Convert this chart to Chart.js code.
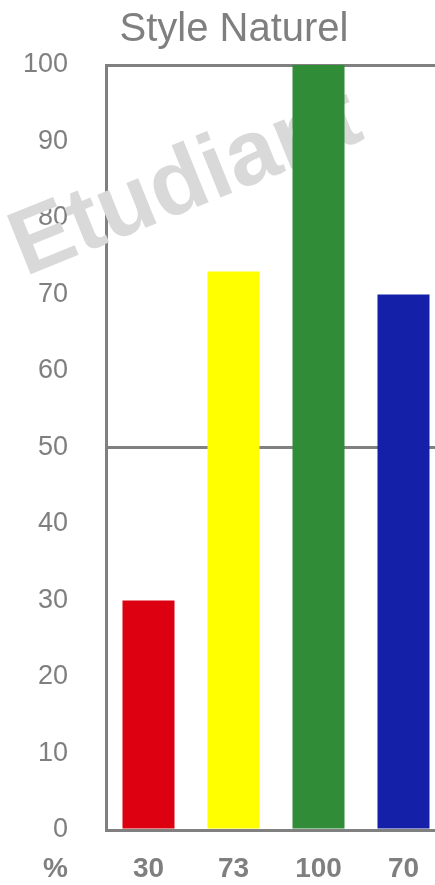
<!DOCTYPE html>
<html>
<head>
<meta charset="utf-8">
<script src="https://cdn.jsdelivr.net/npm/chart.js@4/dist/chart.umd.min.js"></script>
<style>
  html, body { margin: 0; padding: 0; background: #fff; overflow: hidden; }
  #boite { position: relative; width: 552px; height: 885px; }
</style>
</head>
<body>
<div id="boite"><canvas id="graphique"></canvas></div>
<script>
const categories = ["30", "73", "100", "70"];
const valeurs = [30, 73, 100, 70];
const couleurs = ["#dc0011", "#ffff00", "#308c37", "#1520a8"];
const yMin = 0;
const yMax = 100;
const yPas = 10;
const lignesMarquees = [50, 100];

const titre = "Style Naturel";
const filigrane = "Etudiant";
const uniteX = "%";

const gris = "#808080";
const texteGris = "#7f7f7f";
const police = "Arial, 'Liberation Sans', sans-serif";

const pluginFiligrane = {
  id: "filigrane",
  beforeDatasetsDraw(chart) {
    const ctx = chart.ctx;
    ctx.save();
    ctx.translate(186, 184);
    ctx.rotate(-22 * Math.PI / 180);
    ctx.font = "bold 92px " + police;
    ctx.fillStyle = "#d9d9d9";
    ctx.textAlign = "center";
    ctx.textBaseline = "middle";
    ctx.fillText(filigrane, 0, 0);
    ctx.restore();
  }
};

const pluginUnite = {
  id: "unite",
  afterDraw(chart) {
    const ctx = chart.ctx;
    const zone = chart.chartArea;
    ctx.save();
    ctx.font = "bold 28px " + police;
    ctx.fillStyle = texteGris;
    ctx.textAlign = "right";
    ctx.textBaseline = "middle";
    ctx.fillText(uniteX, zone.left - 38, zone.bottom + 39);
    ctx.restore();
  }
};

new Chart(document.getElementById("graphique"), {
  type: "bar",
  data: {
    labels: categories,
    datasets: [
      {
        data: valeurs,
        backgroundColor: couleurs,
        borderWidth: 0,
        barPercentage: 0.612,
        categoryPercentage: 1
      }
    ]
  },
  options: {
    responsive: true,
    maintainAspectRatio: false,
    animation: false,
    layout: {
      padding: { left: 22, right: 106, top: 0, bottom: 0 }
    },
    plugins: {
      legend: { display: false },
      tooltip: { enabled: false },
      title: {
        display: true,
        text: titre,
        color: texteGris,
        font: { family: police, size: 40, weight: "normal" },
        padding: { top: 6, bottom: 11 }
      }
    },
    scales: {
      x: {
        grid: { display: false, drawTicks: false },
        border: { color: gris, width: 3 },
        ticks: {
          color: texteGris,
          padding: 22,
          font: { family: police, size: 28, weight: "bold" }
        },
        afterFit(scale) {
          scale.height = 55;
        }
      },
      y: {
        min: yMin,
        max: yMax,
        z: 1,
        grid: {
          drawTicks: false,
          lineWidth: 3,
          color: (c) => (c.tick && lignesMarquees.includes(c.tick.value) ? gris : "transparent")
        },
        border: { color: gris, width: 3 },
        ticks: {
          stepSize: yPas,
          color: texteGris,
          padding: 38,
          font: { family: police, size: 27 }
        },
        afterFit(scale) {
          scale.width = 84;
        }
      }
    }
  },
  plugins: [pluginFiligrane, pluginUnite]
});
</script>
</body>
</html>
